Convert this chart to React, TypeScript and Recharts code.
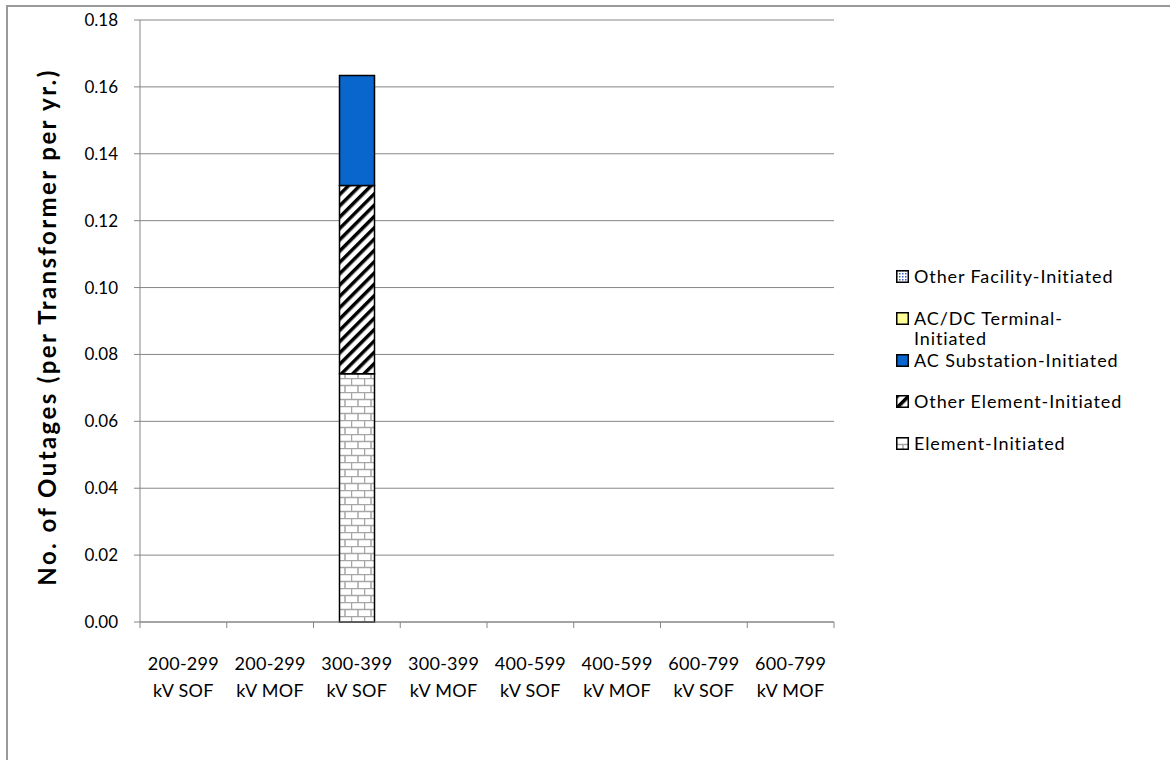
import React from 'react';
import { BarChart, Bar, XAxis, YAxis, CartesianGrid } from 'recharts';

const categories = [
  '200-299 kV SOF',
  '200-299 kV MOF',
  '300-399 kV SOF',
  '300-399 kV MOF',
  '400-599 kV SOF',
  '400-599 kV MOF',
  '600-799 kV SOF',
  '600-799 kV MOF',
];

const elementInitiated = [0, 0, 0.0742, 0, 0, 0, 0, 0];
const otherElementInitiated = [0, 0, 0.0563, 0, 0, 0, 0, 0];
const acSubstationInitiated = [0, 0, 0.0329, 0, 0, 0, 0, 0];
const acDcTerminalInitiated = [0, 0, 0, 0, 0, 0, 0, 0];
const otherFacilityInitiated = [0, 0, 0, 0, 0, 0, 0, 0];

const yTicks = [0, 0.02, 0.04, 0.06, 0.08, 0.1, 0.12, 0.14, 0.16, 0.18];

const series = [
  { key: 'element', name: 'Element-Initiated', values: elementInitiated, fill: 'url(#brick)' },
  { key: 'otherElement', name: 'Other Element-Initiated', values: otherElementInitiated, fill: 'url(#hatch)' },
  { key: 'acSub', name: 'AC Substation-Initiated', values: acSubstationInitiated, fill: '#0866CC' },
  { key: 'acdc', name: 'AC/DC Terminal-\nInitiated', values: acDcTerminalInitiated, fill: '#FFFF99' },
  { key: 'otherFacility', name: 'Other Facility-Initiated', values: otherFacilityInitiated, fill: 'url(#dots)' },
];

const data = categories.map((category, i) => {
  const row: Record<string, string | number> = { category };
  series.forEach((s) => {
    row[s.key] = s.values[i];
  });
  return row;
});

const FONT = 'Lato, "Noto Sans", sans-serif';
const CHART_W = 1170;
const CHART_H = 760;
const LEFT = 140;
const RIGHT = 336;
const PLOT_W = CHART_W - LEFT - RIGHT;
const GRAY = '#868686';

const XTick = (props: any) => {
  const { x, y, payload, index } = props;
  const step = PLOT_W / categories.length;
  const text: string = payload.value;
  const cut = text.indexOf(' ');
  const line1 = text.slice(0, cut);
  const line2 = text.slice(cut + 1);
  return (
    <g>
      <line x1={x - step / 2} x2={x - step / 2} y1={y - 6} y2={y} stroke={GRAY} strokeWidth={1} />
      {index === categories.length - 1 && (
        <line x1={x + step / 2} x2={x + step / 2} y1={y - 6} y2={y} stroke={GRAY} strokeWidth={1} />
      )}
      <text x={x} y={y + 42} textAnchor="middle" fill="#000" fontSize={18} letterSpacing={0.3} fontFamily={FONT}>
        {line1}
      </text>
      <text x={x} y={y + 69} textAnchor="middle" fill="#000" fontSize={18} letterSpacing={0.3} fontFamily={FONT}>
        {line2}
      </text>
    </g>
  );
};

const YLabel = (props: any) => {
  const { viewBox } = props;
  const cx = 46;
  const cy = viewBox.y + viewBox.height / 2 + 6;
  return (
    <text
      x={cx}
      y={cy}
      transform={`rotate(-90, ${cx}, ${cy})`}
      textAnchor="middle"
      dominantBaseline="central"
      fontSize={24}
      letterSpacing={2.4}
      fontWeight="bold"
      fontFamily={FONT}
      fill="#000"
    >
      No. of Outages (per Transformer per yr.)
    </text>
  );
};

const LegendIcon = ({ fill }: { fill: string }) => (
  <svg width={13} height={13} style={{ flex: 'none', marginTop: 4 }}>
    <rect x={0.75} y={0.75} width={11.5} height={11.5} fill={fill} stroke="#000" strokeWidth={1.5} />
  </svg>
);

export default function App() {
  const legendItems = [...series].reverse();
  return (
    <div
      style={{
        position: 'absolute',
        left: 0,
        top: 0,
        width: CHART_W,
        height: CHART_H,
        overflow: 'hidden',
        background: '#fff',
      }}
    >
      <svg width={0} height={0} style={{ position: 'absolute' }}>
        <defs>
          <pattern id="brick" width={13} height={14} patternUnits="userSpaceOnUse">
            <rect width={13} height={14} fill="#fff" />
            <line x1={0} x2={13} y1={0.5} y2={0.5} stroke="#A6A6A6" strokeWidth={1.5} />
            <line x1={0} x2={13} y1={7.5} y2={7.5} stroke="#A6A6A6" strokeWidth={1.5} />
            <line x1={0.5} x2={0.5} y1={0} y2={7.5} stroke="#A6A6A6" strokeWidth={1.5} />
            <line x1={7} x2={7} y1={7.5} y2={14} stroke="#A6A6A6" strokeWidth={1.5} />
          </pattern>
          <pattern id="hatch" width={8} height={8} patternUnits="userSpaceOnUse" patternTransform="rotate(45)">
            <rect width={8} height={8} fill="#fff" />
            <rect width={3.5} height={8} fill="#000" />
          </pattern>
          <pattern id="dots" width={3} height={3} patternUnits="userSpaceOnUse">
            <rect width={3} height={3} fill="#fff" />
            <rect width={1.5} height={1.5} fill="#3A5BC7" />
          </pattern>
        </defs>
      </svg>
      <div
        style={{
          position: 'absolute',
          left: 6,
          top: 5,
          width: CHART_W,
          height: CHART_H,
          borderTop: '2px solid #9A9A9A',
          borderLeft: '2px solid #9A9A9A',
        }}
      />
      <div style={{ position: 'absolute', left: 0, top: 0 }}>
        <BarChart
          width={CHART_W}
          height={CHART_H}
          data={data}
          margin={{ top: 20, right: RIGHT, bottom: 58, left: 0 }}
          barSize={35}
        >
          <CartesianGrid vertical={false} stroke={GRAY} strokeWidth={1} />
          <XAxis
            dataKey="category"
            interval={0}
            height={80}
            tickLine={false}
            tickSize={6}
            tickMargin={0}
            axisLine={{ stroke: GRAY }}
            tick={<XTick />}
          />
          <YAxis
            width={LEFT}
            domain={[0, 0.18]}
            ticks={yTicks}
            interval={0}
            tickFormatter={(v: number) => v.toFixed(2)}
            tickSize={6}
            tickMargin={16}
            axisLine={{ stroke: GRAY }}
            tickLine={{ stroke: GRAY }}
            tick={{ fill: '#000', fontSize: 17, fontFamily: FONT }}
            label={<YLabel />}
          />
          {series.map((s) => (
            <Bar
              key={s.key}
              dataKey={s.key}
              name={s.name}
              stackId="a"
              fill={s.fill}
              stroke="#000"
              strokeWidth={1.5}
              isAnimationActive={false}
            />
          ))}
        </BarChart>
      </div>
      <div
        style={{
          position: 'absolute',
          left: 896,
          top: 266,
          fontFamily: FONT,
          fontSize: 18,
          letterSpacing: 0.9,
          color: '#000',
        }}
      >
        {legendItems.map((s) => (
          <div key={s.key} style={{ display: 'flex', alignItems: 'flex-start', height: 41.75 }}>
            <LegendIcon fill={s.fill} />
            <div style={{ marginLeft: 5, lineHeight: '20px', whiteSpace: 'pre-line' }}>{s.name}</div>
          </div>
        ))}
      </div>
    </div>
  );
}
